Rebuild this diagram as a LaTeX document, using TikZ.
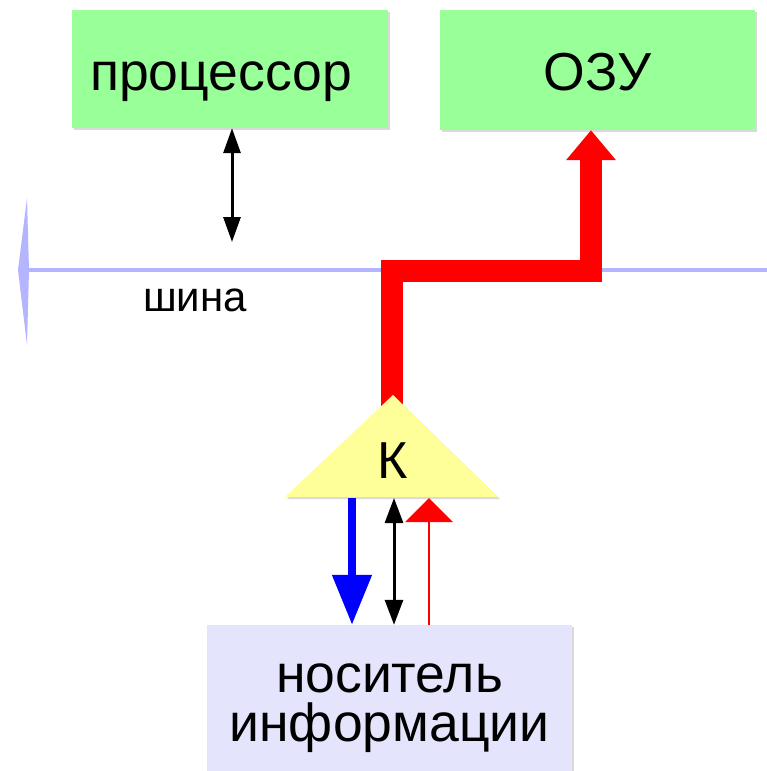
\documentclass[tikz,border=0pt]{standalone}
\usepackage{fontspec}
\setmainfont{Liberation Sans}
\usetikzlibrary{arrows.meta,shadows}
\definecolor{boxgreen}{HTML}{99FF99}
\definecolor{boxyellow}{HTML}{FFFF99}
\definecolor{boxlav}{HTML}{E4E4FC}
\definecolor{busblue}{HTML}{B4B4FF}
\tikzset{
  box/.style={rectangle, inner sep=0pt, drop shadow={shadow xshift=2pt, shadow yshift=-2pt, opacity=0.3}},
  big/.style={font=\fontsize{53.5}{51}\selectfont, inner sep=0pt},
  dblarrow/.style={black, line width=3pt, {Triangle[width=17pt,length=25pt]}-{Triangle[width=17pt,length=25pt]}},
}
\begin{document}
\begin{tikzpicture}[x=1pt,y=-1pt]
\useasboundingbox (0,0) rectangle (767,771);
\clip (0,0) rectangle (767,771);
% boxes
\node[box, fill=boxgreen, minimum width=316pt, minimum height=118pt] (proc) at (230,69) {};
\node[big, anchor=base] (proctext) at (221,90) {процессор};
\node[box, fill=boxgreen, minimum width=315pt, minimum height=120pt] (ozu) at (597.5,70) {};
\node[big, anchor=base] (ozutext) at (597.5,90) {ОЗУ};
\node[box, fill=boxlav, minimum width=365pt, minimum height=160pt] (media) at (389.5,705) {};
\node[big, anchor=base] (medtext1) at (389.5,692) {носитель};
\node[big, anchor=base] (medtext2) at (389.5,741) {информации};
% bus
\coordinate (busL) at (27,270);
\coordinate (busR) at (767,270);
\draw[busblue, line width=4pt] (busL) -- (busR);
\fill[busblue] (18,270) -- (27,198) -- (29,270) -- (27,345) -- cycle;
\node[font=\fontsize{42}{42}\selectfont, inner sep=0pt, anchor=base] (bus) at (195,311) {шина};
% processor to bus
\coordinate (procbus) at (232,242);
\draw[dblarrow] (proc.south -| procbus) -- (procbus);
% red thick path
\coordinate (kstart) at (392,410);
\coordinate (ozuin) at (591,271);
\draw[red, line width=22pt, line join=miter, -{Triangle[width=48pt,length=30pt]}] (kstart) |- (ozuin) -- (ozuin |- ozu.south);
% controller triangle
\draw[fill=boxyellow, draw=none, drop shadow={shadow xshift=2pt, shadow yshift=-2pt, opacity=0.3}] (393,395) -- (498,497) -- (285,497) -- cycle;
\node[font=\fontsize{52}{52}\selectfont, inner sep=0pt, anchor=base] (K) at (393,478) {К};
\coordinate (kb1) at (352,498);
\coordinate (kb2) at (394,498);
\coordinate (kb3) at (429,498);
% arrows between controller and media
\draw[blue, line width=8pt, -{Triangle[width=38pt,length=50pt]}] (kb1) -- (kb1 |- media.north);
\draw[dblarrow, {Triangle[width=18pt,length=25pt]}-{Triangle[width=18pt,length=25pt]}] (kb2) -- (kb2 |- media.north);
\draw[red, line width=2.5pt, -{Triangle[width=47pt,length=24pt]}] (kb3 |- media.north) -- (kb3);
\end{tikzpicture}
\end{document}
